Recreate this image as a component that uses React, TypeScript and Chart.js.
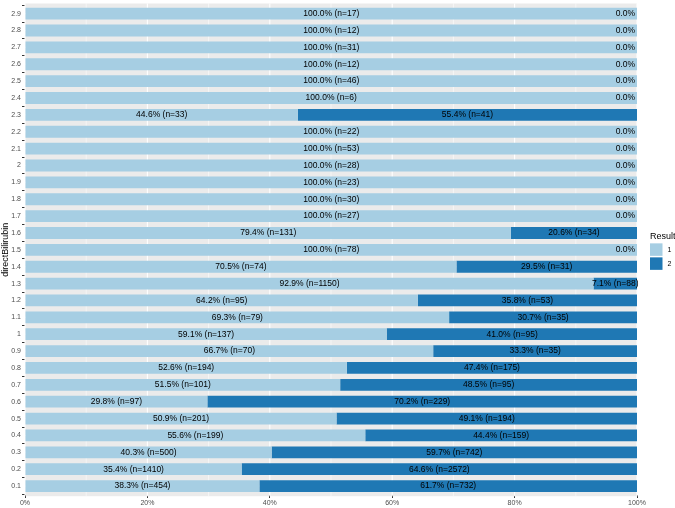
import React, { useEffect, useRef } from 'react';
import { Chart, registerables } from 'chart.js';

Chart.register(...registerables);

// ---- data ----
const categories = [
  '0.1', '0.2', '0.3', '0.4', '0.5', '0.6', '0.7', '0.8', '0.9', '1',
  '1.1', '1.2', '1.3', '1.4', '1.5', '1.6', '1.7', '1.8', '1.9', '2',
  '2.1', '2.2', '2.3', '2.4', '2.5', '2.6', '2.7', '2.8', '2.9',
];
const result1Counts = [
  454, 1410, 500, 199, 201, 97, 101, 194, 70, 137,
  79, 95, 1150, 74, 78, 131, 27, 30, 23, 28,
  53, 22, 33, 6, 46, 12, 31, 12, 17,
];
const result2Counts = [
  732, 2572, 742, 159, 194, 229, 95, 175, 35, 95,
  35, 53, 88, 31, 0, 34, 0, 0, 0, 0,
  0, 0, 41, 0, 0, 0, 0, 0, 0,
];
const result1Percent = [
  38.3, 35.4, 40.3, 55.6, 50.9, 29.8, 51.5, 52.6, 66.7, 59.1,
  69.3, 64.2, 92.9, 70.5, 100.0, 79.4, 100.0, 100.0, 100.0, 100.0,
  100.0, 100.0, 44.6, 100.0, 100.0, 100.0, 100.0, 100.0, 100.0,
];
const result2Percent = [
  61.7, 64.6, 59.7, 44.4, 49.1, 70.2, 48.5, 47.4, 33.3, 41.0,
  30.7, 35.8, 7.1, 29.5, 0.0, 20.6, 0.0, 0.0, 0.0, 0.0,
  0.0, 0.0, 55.4, 0.0, 0.0, 0.0, 0.0, 0.0, 0.0,
];
const seriesNames = ['1', '2'];
const xTicks = [0, 20, 40, 60, 80, 100];
const xMinorTicks = [10, 30, 50, 70, 90];
const legendTitle = 'Result';
const yTitle = 'directBilirubin';

const COLORS = ['#A6CEE3', '#1F78B4'];
const FONT = '"Liberation Sans", Arial, Helvetica, sans-serif';

const countsBySeries = [result1Counts, result2Counts];
const pctBySeries = [result1Percent, result2Percent];

const panelPlugin = {
  id: 'panelPlugin',
  beforeDraw(chart: any) {
    const { ctx, chartArea } = chart;
    const band = (chartArea.bottom - chartArea.top) / categories.length;
    const top = chartArea.top - 0.1 * band;
    const bottom = chartArea.bottom + 0.1 * band;
    ctx.save();
    ctx.fillStyle = '#EBEBEB';
    ctx.fillRect(chartArea.left, top, chartArea.right - chartArea.left, bottom - top);
    ctx.restore();
  },
  beforeDatasetsDraw(chart: any) {
    const { ctx, chartArea, scales } = chart;
    const band = (chartArea.bottom - chartArea.top) / categories.length;
    const top = chartArea.top - 0.1 * band;
    const bottom = chartArea.bottom + 0.1 * band;
    ctx.save();
    ctx.strokeStyle = '#FFFFFF';
    ctx.lineWidth = 0.55;
    xMinorTicks.forEach((v) => {
      const x = scales.x.getPixelForValue(v);
      ctx.beginPath();
      ctx.moveTo(x, top);
      ctx.lineTo(x, bottom);
      ctx.stroke();
    });
    ctx.lineWidth = 1.1;
    xTicks.forEach((v) => {
      const x = scales.x.getPixelForValue(v);
      ctx.beginPath();
      ctx.moveTo(x, top);
      ctx.lineTo(x, bottom);
      ctx.stroke();
    });
    categories.forEach((_, i) => {
      const y = scales.y.getPixelForValue(i);
      ctx.beginPath();
      ctx.moveTo(chartArea.left, y);
      ctx.lineTo(chartArea.right, y);
      ctx.stroke();
    });
    ctx.restore();
  },
  afterDatasetsDraw(chart: any) {
    const { ctx, chartArea } = chart;
    ctx.save();
    ctx.font = `8.5px ${FONT}`;
    ctx.fillStyle = '#000000';
    ctx.textBaseline = 'middle';
    [0, 1].forEach((di) => {
      const meta = chart.getDatasetMeta(di);
      meta.data.forEach((bar: any, i: number) => {
        const p = bar.getProps(['x', 'y', 'base'], true);
        const n = countsBySeries[di][i];
        const pct = pctBySeries[di][i];
        if (n === 0) {
          ctx.textAlign = 'right';
          ctx.fillText(`${pct.toFixed(1)}%`, chartArea.right - 2, p.y);
        } else {
          ctx.textAlign = 'center';
          ctx.fillText(`${pct.toFixed(1)}% (n=${n})`, (p.x + p.base) / 2, p.y);
        }
      });
    });
    ctx.restore();
  },
  afterDraw(chart: any) {
    const { ctx, chartArea } = chart;
    const cy = (chartArea.top + chartArea.bottom) / 2;
    const lx = chartArea.right + 13;
    ctx.save();
    ctx.fillStyle = '#000000';
    ctx.font = `9px ${FONT}`;
    ctx.textAlign = 'left';
    ctx.textBaseline = 'alphabetic';
    ctx.fillText(legendTitle, lx, cy - 10.5);
    const boxTop = cy - 6.5;
    seriesNames.forEach((name, k) => {
      const y = boxTop + k * 14;
      ctx.fillStyle = COLORS[k];
      ctx.fillRect(lx, y, 12.5, 12.5);
      ctx.fillStyle = '#000000';
      ctx.font = `7px ${FONT}`;
      ctx.textBaseline = 'middle';
      ctx.fillText(name, lx + 17.5, y + 6.5);
    });
    ctx.restore();
  },
};

export default function App() {
  const canvasRef = useRef<HTMLCanvasElement | null>(null);

  useEffect(() => {
    const canvas = canvasRef.current;
    if (!canvas) return;
    const chart = new Chart(canvas, {
      type: 'bar',
      data: {
        labels: categories,
        datasets: seriesNames.map((name, k) => ({
          label: name,
          data: pctBySeries[k],
          backgroundColor: COLORS[k],
          borderWidth: 0,
          barPercentage: 0.7,
          categoryPercentage: 1,
        })),
      },
      options: {
        indexAxis: 'y',
        animation: false,
        responsive: false,
        maintainAspectRatio: false,
        events: [],
        layout: { padding: { top: 2.4, right: 38, left: 0, bottom: 0 } },
        plugins: {
          legend: { display: false },
          tooltip: { enabled: false },
        },
        scales: {
          x: {
            type: 'linear',
            stacked: true,
            min: 0,
            max: 100,
            afterBuildTicks: (scale: any) => {
              scale.ticks = xTicks.map((v) => ({ value: v }));
            },
            afterFit: (scale: any) => {
              scale.height = 13.5;
            },
            ticks: {
              callback: (v: any) => `${v}%`,
              font: { family: FONT, size: 7 },
              color: '#4D4D4D',
              padding: 1,
              maxRotation: 0,
              autoSkip: false,
            },
            grid: {
              drawOnChartArea: false,
              drawTicks: true,
              tickLength: 3.5,
              color: '#333333',
            },
            border: { display: false },
          },
          y: {
            type: 'category',
            stacked: true,
            reverse: true,
            afterFit: (scale: any) => {
              scale.width = 25;
            },
            ticks: {
              font: { family: FONT, size: 7 },
              color: '#4D4D4D',
              padding: 1,
              autoSkip: false,
            },
            grid: {
              drawOnChartArea: false,
              drawTicks: true,
              tickLength: 3,
              color: '#333333',
            },
            border: { display: false },
            title: {
              display: true,
              text: yTitle,
              font: { family: FONT, size: 9 },
              color: '#000000',
              padding: { top: 0, bottom: 0 },
            },
          },
        },
      },
      plugins: [panelPlugin],
    });
    return () => chart.destroy();
  }, []);

  return (
    <div style={{ position: 'fixed', left: 0, top: 0, width: 675, height: 508, background: '#FFFFFF' }}>
      <canvas ref={canvasRef} width={675} height={508} style={{ width: 675, height: 508, display: 'block' }} />
    </div>
  );
}
